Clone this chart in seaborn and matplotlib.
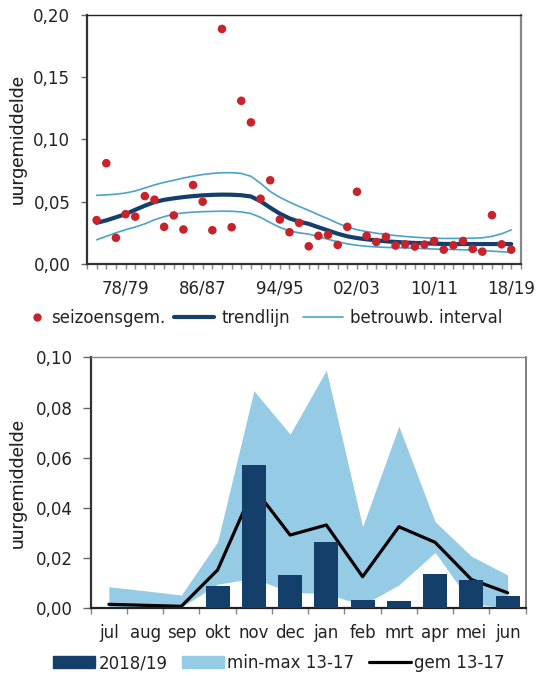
#Two panels: season averages with trend (top) and monthly values 2018/19 (bottom)

import matplotlib.pyplot as plt
import seaborn as sns
import numpy as np
import pandas as pd
from matplotlib.lines import Line2D
from matplotlib.patches import Patch

# top panel data: seasons 75/76 .. 18/19 (start year)
season_start = list(range(1975, 2019))
season_avg = [0.0352, 0.0809, 0.0210, 0.0400, 0.0380, 0.0545, 0.0516, 0.0298, 0.0390, 0.0277,
              0.0634, 0.0500, 0.0271, 0.1887, 0.0295, 0.1310, 0.1137, 0.0524, 0.0672, 0.0357,
              0.0255, 0.0330, 0.0142, 0.0226, 0.0234, 0.0153, 0.0298, 0.0580, 0.0226, 0.0177,
              0.0218, 0.0148, 0.0158, 0.0140, 0.0156, 0.0185, 0.0115, 0.0150, 0.0185, 0.0121,
              0.0099, 0.0392, 0.0158, 0.0115]
trend = [0.0330, 0.0350, 0.0375, 0.0400, 0.0435, 0.0468, 0.0497, 0.0515, 0.0527, 0.0537,
         0.0545, 0.0551, 0.0555, 0.0557, 0.0556, 0.0552, 0.0542, 0.0504, 0.0452, 0.0404,
         0.0366, 0.0340, 0.0322, 0.0295, 0.0269, 0.0243, 0.0222, 0.0208, 0.0198, 0.0190,
         0.0182, 0.0177, 0.0172, 0.0169, 0.0166, 0.0163, 0.0161, 0.0160, 0.0160, 0.0160,
         0.0160, 0.0160, 0.0160, 0.0160]
ci_upper = [0.0551, 0.0555, 0.0560, 0.0570, 0.0586, 0.0610, 0.0635, 0.0655, 0.0672, 0.0690,
            0.0705, 0.0718, 0.0727, 0.0732, 0.0733, 0.0727, 0.0704, 0.0648, 0.0582, 0.0535,
            0.0497, 0.0462, 0.0430, 0.0395, 0.0363, 0.0327, 0.0297, 0.0275, 0.0260, 0.0247,
            0.0237, 0.0228, 0.0221, 0.0215, 0.0210, 0.0206, 0.0205, 0.0205, 0.0206, 0.0207,
            0.0210, 0.0222, 0.0242, 0.0274]
ci_lower = [0.0194, 0.0222, 0.0250, 0.0275, 0.0297, 0.0322, 0.0355, 0.0380, 0.0400, 0.0410,
            0.0416, 0.0420, 0.0422, 0.0424, 0.0423, 0.0418, 0.0405, 0.0374, 0.0332, 0.0294,
            0.0265, 0.0250, 0.0240, 0.0220, 0.0198, 0.0178, 0.0162, 0.0150, 0.0142, 0.0137,
            0.0133, 0.0131, 0.0129, 0.0126, 0.0123, 0.0120, 0.0118, 0.0116, 0.0114, 0.0112,
            0.0108, 0.0103, 0.0098, 0.0094]
top_tick_years = [1978, 1986, 1994, 2002, 2010, 2018]
top_tick_labels = ['78/79', '86/87', '94/95', '02/03', '10/11', '18/19']
top_yticks = [0.0, 0.05, 0.10, 0.15, 0.20]
top_ylabels = ['0,00', '0,05', '0,10', '0,15', '0,20']

# bottom panel data
months = ['jul', 'aug', 'sep', 'okt', 'nov', 'dec', 'jan', 'feb', 'mrt', 'apr', 'mei', 'jun']
val_1819 = [0.0, 0.0, 0.0, 0.0089, 0.0571, 0.0133, 0.0265, 0.0033, 0.0030, 0.0135, 0.0113, 0.0049]
min_1317 = [0.0002, 0.0003, 0.0005, 0.0096, 0.0120, 0.0064, 0.0058, 0.0013, 0.0093, 0.0223, 0.0020, 0.0]
max_1317 = [0.0086, 0.0070, 0.0053, 0.0265, 0.0867, 0.0694, 0.0949, 0.0325, 0.0726, 0.0345, 0.0208, 0.0133]
gem_1317 = [0.0016, 0.0012, 0.0008, 0.0153, 0.0480, 0.0292, 0.0332, 0.0126, 0.0325, 0.0263, 0.0115, 0.0062]
bot_yticks = [0.0, 0.02, 0.04, 0.06, 0.08, 0.10]
bot_ylabels = ['0,00', '0,02', '0,04', '0,06', '0,08', '0,10']

sns.set_style('white')
plt.rcParams['font.family'] = ['DejaVu Sans']
plt.rcParams['font.size'] = 12

red = '#C8232B'
navy = '#143F6B'
ci_blue = '#4AA3C9'
fill_blue = '#96CBE6'
txt = '#222222'

fig = plt.figure(figsize=(5.37, 6.76), dpi=100)
ax1 = fig.add_axes([0.162, 0.6095, 0.808, 0.3685])
ax2 = fig.add_axes([0.169, 0.1001, 0.810, 0.3713])

#Top panel
df_top = pd.DataFrame({'seizoen': season_start, 'gem': season_avg, 'trend': trend,
                       'boven': ci_upper, 'onder': ci_lower})
sns.lineplot(data=df_top, x='seizoen', y='boven', color=ci_blue, lw=1.2, ax=ax1)
sns.lineplot(data=df_top, x='seizoen', y='onder', color=ci_blue, lw=1.2, ax=ax1)
sns.lineplot(data=df_top, x='seizoen', y='trend', color=navy, lw=3, ax=ax1)
sns.scatterplot(data=df_top, x='seizoen', y='gem', color=red, s=38, edgecolor='none',
                zorder=4, ax=ax1)
ax1.set_xlim(1974, 2019)
ax1.set_ylim(0, 0.20)
ax1.set_xticks(top_tick_years)
ax1.set_xticklabels(top_tick_labels, color=txt)
ax1.set_xticks(range(1974, 2020), minor=True)
ax1.set_yticks(top_yticks)
ax1.set_yticklabels(top_ylabels, color=txt)
ax1.tick_params(axis='x', which='both', direction='out', length=3.5, width=1,
                color='#888888', bottom=True, pad=8)
ax1.tick_params(axis='y', direction='out', length=4, width=1, color='#666666', left=True, pad=8)
ax1.set_xlabel('')
ax1.set_ylabel('uurgemiddelde', family='Roboto', fontsize=14, color=txt)
ax1.yaxis.set_label_coords(-0.138, 0.5)
for side, col, w in [('left', '#333333', 1.6), ('bottom', '#333333', 1.6),
                     ('top', '#222222', 1.0), ('right', '#888888', 1.6)]:
    ax1.spines[side].set_color(col)
    ax1.spines[side].set_linewidth(w)

# marker entry gets a short handle, line entries a long one
fig.legend([Line2D([], [], ls='none', marker='o', color=red, markersize=5)],
           ['seizoensgem.'], loc='center left', bbox_to_anchor=(0.026, 0.5296),
           frameon=False, fontsize=12, handlelength=1.0, handletextpad=0.33,
           labelcolor=txt)
fig.legend([Line2D([], [], color=navy, lw=3), Line2D([], [], color=ci_blue, lw=1.2)],
           ['trendlijn', 'betrouwb. interval'], loc='center left',
           bbox_to_anchor=(0.297, 0.5296), ncol=2, frameon=False, fontsize=12,
           handlelength=2.4, handletextpad=0.4, columnspacing=0.8, labelcolor=txt)

#Bottom panel
x_pos = np.arange(len(months))
ax2.fill_between(x_pos, min_1317, max_1317, color=fill_blue, lw=0, zorder=1)
sns.lineplot(x=x_pos, y=gem_1317, color='black', lw=2.3, zorder=2, ax=ax2)
sns.barplot(x=months, y=val_1819, color=navy, saturation=1, width=0.66, zorder=3,
            linewidth=0, edgecolor=navy, ax=ax2)
for p in ax2.patches:
    p.set_zorder(3)
ax2.set_xlim(-0.5, 11.5)
ax2.set_ylim(0, 0.10)
ax2.set_xticks(x_pos)
ax2.set_xticklabels(months, color=txt)
ax2.set_xticks(np.arange(-0.5, 12, 1), minor=True)
ax2.tick_params(axis='x', which='major', length=0, pad=11)
ax2.tick_params(axis='x', which='minor', direction='out', length=4, width=1,
                color='#888888', bottom=True)
ax2.set_yticks(bot_yticks)
ax2.set_yticklabels(bot_ylabels, color=txt)
ax2.tick_params(axis='y', direction='out', length=6, width=1, color='#666666', left=True, pad=7)
ax2.set_ylabel('uurgemiddelde', family='Roboto', fontsize=14, color=txt)
ax2.yaxis.set_label_coords(-0.146, 0.5)
for side, col, w in [('left', '#333333', 1.6), ('bottom', '#222222', 1.6),
                     ('top', '#888888', 1.0), ('right', '#666666', 1.2)]:
    ax2.spines[side].set_color(col)
    ax2.spines[side].set_linewidth(w)

h_bot = [Patch(color=navy), Patch(color=fill_blue), Line2D([], [], color='black', lw=2.3)]
fig.legend(h_bot, ['2018/19', 'min-max 13-17', 'gem 13-17'], loc='center',
           bbox_to_anchor=(0.52, 0.0192), ncol=3, frameon=False, fontsize=12,
           handlelength=2.5, handletextpad=0.2, columnspacing=0.9, labelcolor=txt)

plt.savefig('out.png', dpi=100)
